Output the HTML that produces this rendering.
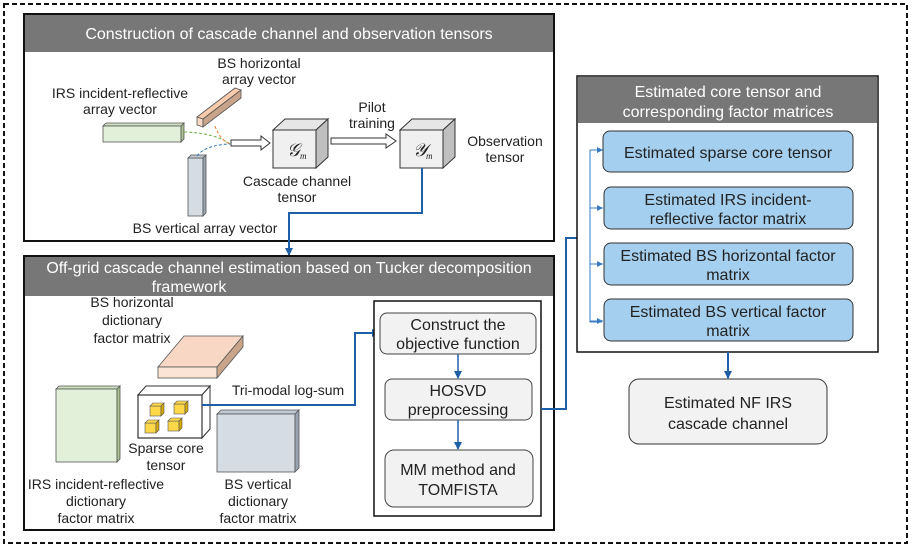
<!DOCTYPE html>
<html><head><meta charset="utf-8"><style>
body{margin:0;background:#fff}
svg{display:block}
text{font-family:"Liberation Sans",sans-serif;font-size:14px;fill:#222}
.h{fill:#fff;font-size:16px}
.b{font-size:16px}
</style></head><body>
<svg width="914" height="550" viewBox="0 0 914 550">
<defs>
<marker id="a" markerWidth="8" markerHeight="8" refX="7" refY="4" orient="auto" markerUnits="userSpaceOnUse"><path d="M0,0 L8,4 L0,8 z" fill="#1f5fa8"/></marker>
<marker id="s" markerWidth="6" markerHeight="6" refX="6" refY="3" orient="auto" markerUnits="userSpaceOnUse"><path d="M0,0 L6,3 L0,6 z" fill="#3a7cc0"/></marker>
</defs>
<rect x="4" y="4" width="903" height="539" fill="none" stroke="#111" stroke-width="2" stroke-dasharray="5,3"/>

<!-- Box1 -->
<rect x="24" y="14" width="530" height="227" fill="#fff" stroke="#111" stroke-width="2"/>
<rect x="25" y="15" width="528" height="37" fill="#777"/>
<text class="h" x="289" y="39" text-anchor="middle">Construction of cascade channel and observation tensors</text>
<text x="259" y="68" text-anchor="middle">BS horizontal</text>
<text x="259" y="84" text-anchor="middle">array vector</text>
<text x="120" y="98" text-anchor="middle">IRS incident-reflective</text>
<text x="120" y="114" text-anchor="middle">array vector</text>
<!-- green bar -->
<polygon points="103,126 181,126 184,123 106,123" fill="#cfe0c0" stroke="#555" stroke-width="0.8"/>
<rect x="103" y="126" width="78" height="16" fill="#e2efd9" stroke="#555" stroke-width="0.8"/>
<polygon points="181,126 184,123 184,139 181,142" fill="#a9c08e" stroke="#555" stroke-width="0.8"/>
<!-- orange bar -->
<polygon points="197,117 235,88 241,90 203,119" fill="#f8cbad" stroke="#555" stroke-width="0.8"/>
<polygon points="197,117 203,119 203,127 197,125" fill="#f8d8c4" stroke="#555" stroke-width="0.8"/>
<polygon points="203,119 241,90 241,98 203,127" fill="#c9a38a" stroke="#555" stroke-width="0.8"/>
<!-- blue vertical bar -->
<rect x="188" y="158" width="15" height="58" fill="#d6dce4" stroke="#555" stroke-width="0.8"/>
<polygon points="188,158 191,155 206,155 203,158" fill="#c0c8d2" stroke="#555" stroke-width="0.8"/>
<polygon points="203,158 206,155 206,213 203,216" fill="#9aa4b0" stroke="#555" stroke-width="0.8"/>
<!-- dashed curves -->
<path d="M184,132 Q215,133 230,144" fill="none" stroke="#70ad47" stroke-width="1" stroke-dasharray="3,2"/>
<path d="M215,126 Q220,140 230,144" fill="none" stroke="#ed7d31" stroke-width="1" stroke-dasharray="3,2"/>
<path d="M197,156 Q205,145 230,144" fill="none" stroke="#2e75b6" stroke-width="1" stroke-dasharray="3,2"/>
<!-- hollow arrows -->
<polygon points="231,140 261,140 261,136 270,143 261,150 261,146 231,146" fill="#fff" stroke="#333" stroke-width="1"/>
<polygon points="331,138 386,138 386,134 396,141 386,148 386,144 331,144" fill="#fff" stroke="#333" stroke-width="1"/>
<text x="372" y="112" text-anchor="middle">Pilot</text>
<text x="372" y="128" text-anchor="middle">training</text>
<!-- G cube -->
<polygon points="273,130 285,119 328,119 316,130" fill="#e6e6e6" stroke="#333" stroke-width="1"/>
<polygon points="316,130 328,119 328,157 316,168" fill="#bfbfbf" stroke="#333" stroke-width="1"/>
<rect x="273" y="130" width="43" height="38" fill="#f0f0f0" stroke="#333" stroke-width="1"/>
<text x="287" y="156" style="font-family:'Liberation Serif',serif;font-style:italic;font-size:18px">𝒢</text><text x="300" y="159" style="font-family:'Liberation Serif',serif;font-style:italic;font-size:9px">m</text>
<text x="297" y="186" text-anchor="middle">Cascade channel</text>
<text x="297" y="202" text-anchor="middle">tensor</text>
<!-- Y cube -->
<polygon points="400,130 412,119 455,119 443,130" fill="#e6e6e6" stroke="#333" stroke-width="1"/>
<polygon points="443,130 455,119 455,157 443,168" fill="#bfbfbf" stroke="#333" stroke-width="1"/>
<rect x="400" y="130" width="43" height="38" fill="#f0f0f0" stroke="#333" stroke-width="1"/>
<text x="413" y="156" style="font-family:'Liberation Serif',serif;font-style:italic;font-size:18px">𝒴</text><text x="426" y="159" style="font-family:'Liberation Serif',serif;font-style:italic;font-size:9px">m</text>
<text x="505" y="146" text-anchor="middle">Observation</text>
<text x="505" y="162" text-anchor="middle">tensor</text>
<text x="205" y="233" text-anchor="middle">BS vertical array vector</text>
<!-- blue connector -->
<polyline points="422,168 422,213 289,213 289,255" fill="none" stroke="#1f5fa8" stroke-width="2" marker-end="url(#a)"/>

<!-- Box2 -->
<rect x="24" y="256" width="530" height="274" fill="#fff" stroke="#111" stroke-width="2"/>
<rect x="25" y="257" width="528" height="39" fill="#777"/>
<text class="h" x="289" y="273" text-anchor="middle">Off-grid cascade channel estimation based on Tucker decomposition</text>
<text class="h" x="189" y="292" text-anchor="middle">framework</text>
<text x="132" y="307" text-anchor="middle">BS horizontal</text>
<text x="132" y="325" text-anchor="middle">dictionary</text>
<text x="132" y="343" text-anchor="middle">factor matrix</text>
<!-- orange slab -->
<polygon points="158,367 184,336 243,336 217,367" fill="#f8d8c4" stroke="#555" stroke-width="0.8"/>
<rect x="158" y="367" width="59" height="11" fill="#fbe4d6" stroke="#555" stroke-width="0.8"/>
<polygon points="217,367 243,336 243,347 217,378" fill="#c9a38a" stroke="#555" stroke-width="0.8"/>
<!-- green slab -->
<polygon points="56,389 59,386 120,386 117,389" fill="#cfe0c0" stroke="#555" stroke-width="0.8"/>
<rect x="56" y="389" width="61" height="73" fill="#e2efd9" stroke="#555" stroke-width="0.8"/>
<polygon points="117,389 120,386 120,459 117,462" fill="#a9c08e" stroke="#555" stroke-width="0.8"/>
<!-- sparse core cube -->
<polygon points="138,395 146,386 210,386 202,395" fill="#fff" stroke="#333" stroke-width="1"/>
<polygon points="202,395 210,386 210,429 202,438" fill="#fff" stroke="#333" stroke-width="1"/>
<rect x="138" y="395" width="64" height="43" fill="#fff" stroke="#333" stroke-width="1.2"/>
<g fill="#ffd84a" stroke="#555" stroke-width="0.6">
<rect x="150" y="406" width="11" height="10"/><polygon points="150,406 153,403 164,403 161,406"/><polygon points="161,406 164,403 164,413 161,416" fill="#d4a800"/>
<rect x="174" y="404" width="11" height="10"/><polygon points="174,404 177,401 188,401 185,404"/><polygon points="185,404 188,401 188,411 185,414" fill="#d4a800"/>
<rect x="145" y="423" width="11" height="10"/><polygon points="145,423 148,420 159,420 156,423"/><polygon points="156,423 159,420 159,430 156,433" fill="#d4a800"/>
<rect x="168" y="421" width="11" height="10"/><polygon points="168,421 171,418 182,418 179,421"/><polygon points="179,421 182,418 182,428 179,431" fill="#d4a800"/>
</g>
<text x="166" y="453" text-anchor="middle">Sparse core</text>
<text x="166" y="470" text-anchor="middle">tensor</text>
<!-- gray slab -->
<polygon points="217,414 221,410 299,410 295,414" fill="#c0c8d2" stroke="#555" stroke-width="0.8"/>
<rect x="217" y="414" width="78" height="58" fill="#d6dce4" stroke="#555" stroke-width="0.8"/>
<polygon points="295,414 299,410 299,468 295,472" fill="#9aa4b0" stroke="#555" stroke-width="0.8"/>
<text x="96" y="489" text-anchor="middle">IRS incident-reflective</text>
<text x="96" y="506" text-anchor="middle">dictionary</text>
<text x="96" y="523" text-anchor="middle">factor matrix</text>
<text x="258" y="489" text-anchor="middle">BS vertical</text>
<text x="258" y="506" text-anchor="middle">dictionary</text>
<text x="258" y="523" text-anchor="middle">factor matrix</text>
<text x="288" y="395" text-anchor="middle">Tri-modal log-sum</text>
<polyline points="202,405 355,405 355,333 379,333" fill="none" stroke="#1f5fa8" stroke-width="2" marker-end="url(#a)"/>
<!-- inner process box -->
<rect x="374" y="301" width="167" height="215" fill="#fff" stroke="#111" stroke-width="1.5"/>
<rect x="380" y="313" width="156" height="41" rx="7" fill="#f2f2f2" stroke="#444" stroke-width="1"/>
<text class="b" x="458" y="330" text-anchor="middle">Construct the</text>
<text class="b" x="458" y="349" text-anchor="middle">objective function</text>
<rect x="385" y="379" width="147" height="41" rx="7" fill="#f2f2f2" stroke="#444" stroke-width="1"/>
<text class="b" x="458" y="396" text-anchor="middle">HOSVD</text>
<text class="b" x="458" y="415" text-anchor="middle">preprocessing</text>
<rect x="385" y="450" width="148" height="57" rx="9" fill="#f2f2f2" stroke="#444" stroke-width="1"/>
<text class="b" x="458" y="475" text-anchor="middle">MM method and</text>
<text class="b" x="458" y="495" text-anchor="middle">TOMFISTA</text>
<line x1="458" y1="354" x2="458" y2="378" stroke="#1f5fa8" stroke-width="1.5" marker-end="url(#a)"/>
<line x1="458" y1="420" x2="458" y2="449" stroke="#1f5fa8" stroke-width="1.5" marker-end="url(#a)"/>

<!-- connector to right -->
<polyline points="541,409 566,409 566,238 591,238" fill="none" stroke="#1f5fa8" stroke-width="2" marker-end="url(#a)"/>

<!-- right panel -->
<rect x="577" y="76" width="301" height="276" fill="#fff" stroke="#111" stroke-width="1.5"/>
<rect x="578" y="77" width="299" height="46" fill="#777"/>
<text class="h" x="728" y="97" text-anchor="middle">Estimated core tensor and</text>
<text class="h" x="728" y="117" text-anchor="middle">corresponding factor matrices</text>
<polyline points="602,150 590,150 590,322 602,322" fill="none" stroke="#3a7cc0" stroke-width="1" />
<line x1="590" y1="150" x2="603" y2="150" stroke="#3a7cc0" stroke-width="1" marker-end="url(#s)"/>
<line x1="590" y1="208" x2="603" y2="208" stroke="#3a7cc0" stroke-width="1" marker-end="url(#s)"/>
<line x1="590" y1="264" x2="603" y2="264" stroke="#3a7cc0" stroke-width="1" marker-end="url(#s)"/>
<line x1="590" y1="321" x2="603" y2="321" stroke="#3a7cc0" stroke-width="1" marker-end="url(#s)"/>
<g fill="#a4cfee" stroke="#333" stroke-width="1">
<rect x="603" y="131" width="250" height="41" rx="7"/>
<rect x="604" y="187" width="249" height="42" rx="7"/>
<rect x="604" y="243" width="249" height="42" rx="7"/>
<rect x="604" y="299" width="249" height="42" rx="7"/>
</g>
<text class="b" x="728" y="158" text-anchor="middle">Estimated sparse core tensor</text>
<text class="b" x="728" y="205" text-anchor="middle">Estimated IRS incident-</text>
<text class="b" x="728" y="224" text-anchor="middle">reflective factor matrix</text>
<text class="b" x="728" y="261" text-anchor="middle">Estimated BS horizontal factor</text>
<text class="b" x="728" y="280" text-anchor="middle">matrix</text>
<text class="b" x="728" y="317" text-anchor="middle">Estimated BS vertical factor</text>
<text class="b" x="728" y="336" text-anchor="middle">matrix</text>
<line x1="728" y1="352" x2="728" y2="378" stroke="#1f5fa8" stroke-width="2" marker-end="url(#a)"/>
<rect x="629" y="379" width="198" height="65" rx="10" fill="#f2f2f2" stroke="#333" stroke-width="1"/>
<text class="b" x="728" y="408" text-anchor="middle">Estimated NF IRS</text>
<text class="b" x="728" y="429" text-anchor="middle">cascade channel</text>
</svg>
</body></html>
